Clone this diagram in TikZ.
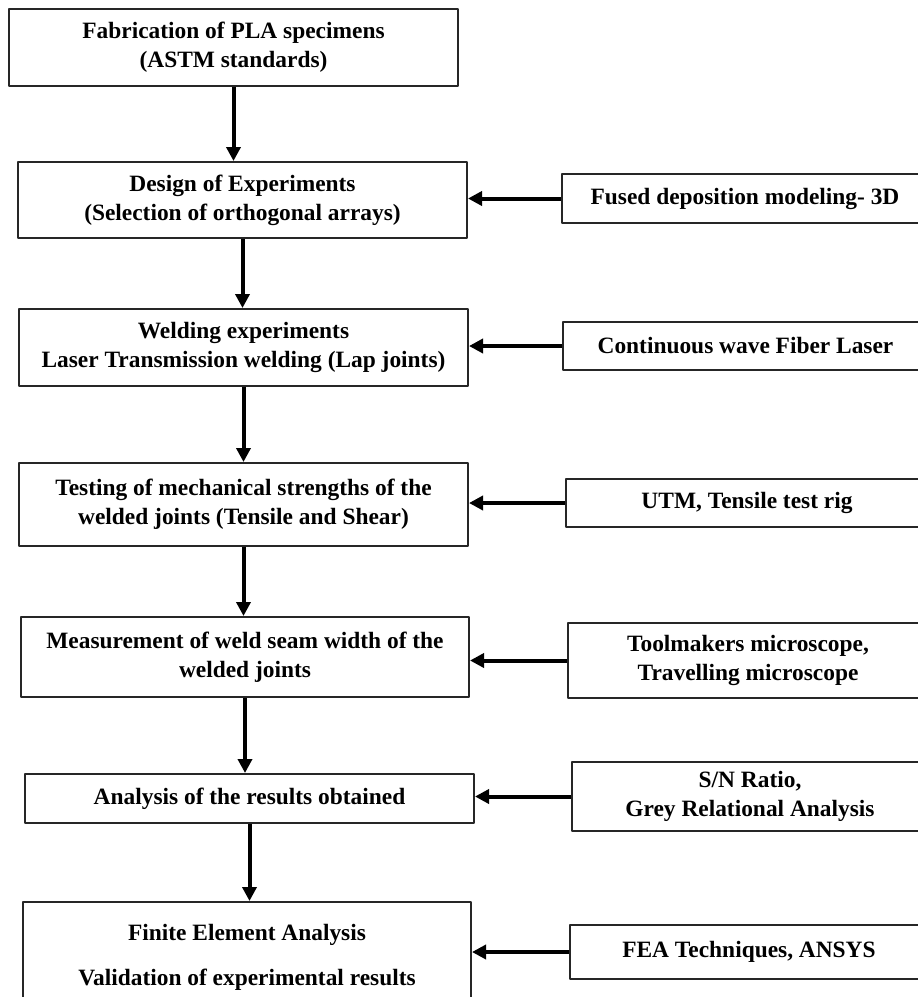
\documentclass[tikz,border=0pt]{standalone}
\usepackage{fontspec}
\setmainfont{Liberation Serif}
\usetikzlibrary{arrows.meta}

\begin{document}
\begin{tikzpicture}[x=1pt, y=-1pt, line join=round,
		font=\fontsize{23.4}{29}\selectfont\bfseries,
		>={Triangle[length=14pt, width=14pt]},
		stepbox/.style={draw=black!85, line width=2pt, align=center, inner sep=0pt},
		arr/.style={->, line width=4pt}]
	\useasboundingbox (0,0) rectangle (918,997);
	\clip (0,0) rectangle (918,997);
	% left column: name/centre x/centre y/width/height/text
	\foreach \nm/\cx/\cy/\w/\hh/\txt in {fab/233.5/47.5/449/77/{Fabrication of PLA specimens\\(ASTM standards)},
		doe/242.5/200/449/76/{Design of Experiments\\(Selection of orthogonal arrays)},
		weld/243.5/347.5/449/77/{Welding experiments\\Laser Transmission welding (Lap joints)},
		test/243.5/504.5/449/83/{Testing of mechanical strengths of the\\welded joints (Tensile and Shear)},
		meas/245/657/448/80/{Measurement of weld seam width of the\\welded joints},
		anal/249.5/798.5/449/49/{Analysis of the results obtained},
		fea/247/957/448/110/{Finite Element Analysis\\[16pt]Validation of experimental results}}{
		\node[stepbox, minimum width=\w, minimum height=\hh] (\nm) at (\cx,\cy) {\txt};
	}
	% right column, boxes run past the right edge
	\foreach \nm/\cx/\cy/\w/\hh/\txt in {fdm/745/198.5/366/49/{Fused deposition modeling- 3D},
		cwl/745.5/346/365/48/{Continuous wave Fiber Laser},
		utm/747/503/362/48/{UTM, Tensile test rig},
		micro/748/660.5/360/75/{Toolmakers microscope,\\Travelling microscope},
		snr/750/796.5/356/69/{S/N Ratio,\\Grey Relational Analysis},
		ansys/749/952/358/54/{FEA Techniques, ANSYS}}{
		\node[stepbox, minimum width=\w, minimum height=\hh] (\nm) at (\cx,\cy) {\txt};
	}
	\foreach \a/\b in {fab/doe,doe/weld,weld/test,test/meas,meas/anal,anal/fea}{
		\draw[arr] (\a.south) -- (\a.south |- \b.north);
	}
	\foreach \a/\b in {fdm/doe,cwl/weld,utm/test,micro/meas,snr/anal,ansys/fea}{
		\draw[arr] (\a.west) -- (\a.west -| \b.east);
	}
\end{tikzpicture}
\end{document}
